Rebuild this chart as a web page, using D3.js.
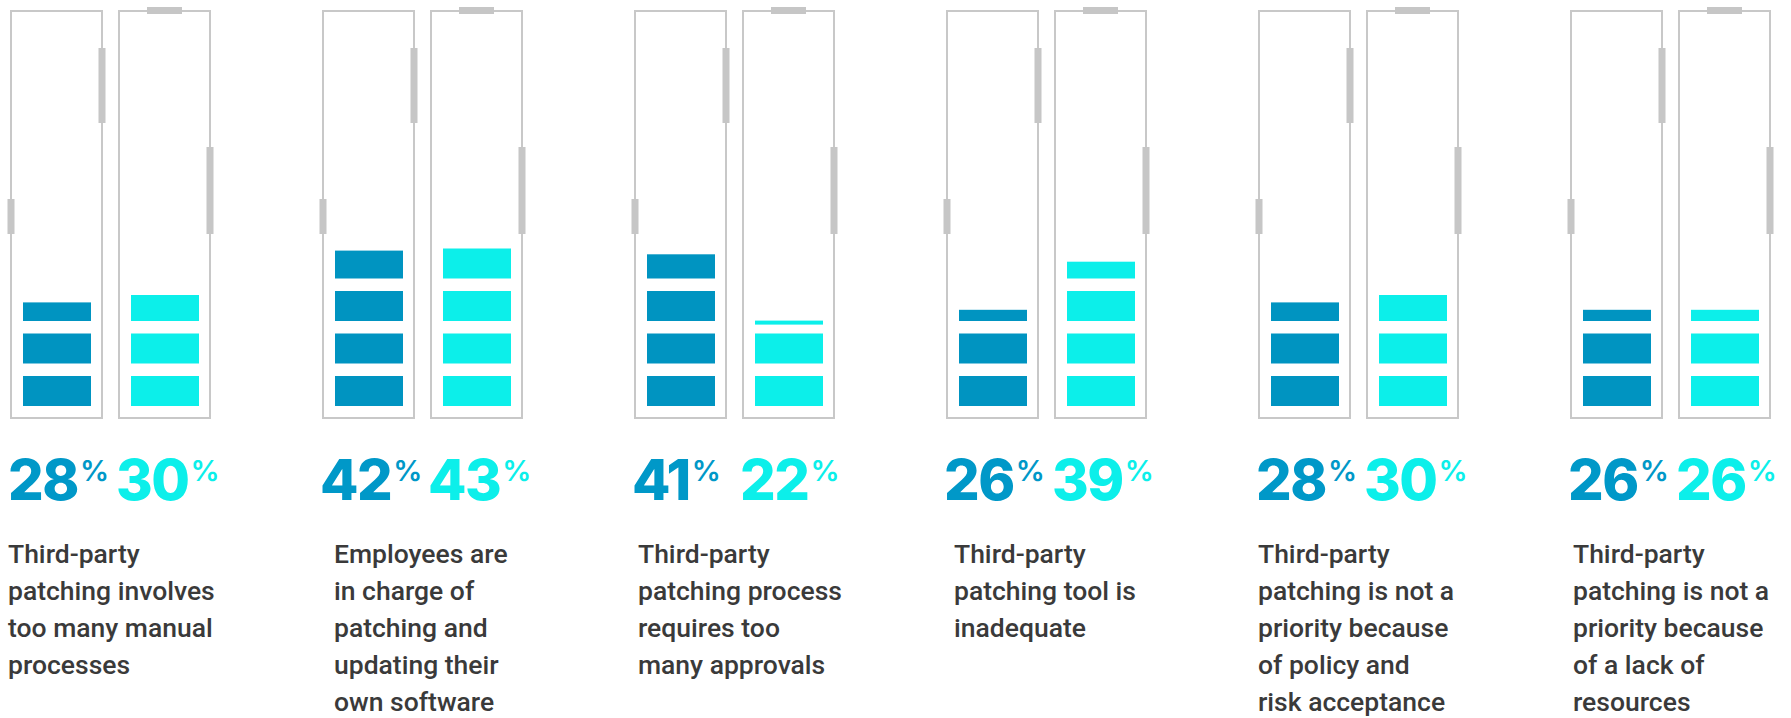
<!DOCTYPE html>
<html>
<head>
<meta charset="utf-8">
<script src="https://cdn.jsdelivr.net/npm/d3@7"></script>
<style>
  html, body { margin: 0; padding: 0; background: #fff; }
  #chart { width: 1791px; height: 718px; }
  .num { font-family: Inter, "Open Sans", sans-serif; font-weight: 800; }
  .desc { font-family: Roboto, sans-serif; font-weight: 500; fill: #3a3a3a; }
</style>
</head>
<body>
<div id="chart"></div>
<script>
  const reasons = [
    ["Third-party", "patching involves", "too many manual", "processes"],
    ["Employees are", "in charge of", "patching and", "updating their", "own software"],
    ["Third-party", "patching process", "requires too", "many approvals"],
    ["Third-party", "patching tool is", "inadequate"],
    ["Third-party", "patching is not a", "priority because", "of policy and", "risk acceptance"],
    ["Third-party", "patching is not a", "priority because", "of a lack of", "resources"]
  ];
  const seriesA = [28, 42, 41, 26, 28, 26];
  const seriesB = [30, 43, 22, 39, 30, 26];

  // small per-group nudges of the caption text, as in the original layout
  const captionShift = [-3, 11, 3, 7, -1, 2];

  const colors = ["#0094c1", "#0cefea"];
  const numColors = ["#0098c8", "#0cefea"];
  const gray = "#c8c8c8";

  const width = 1791, height = 718;
  const pitch = 312, firstX = 11, pairGap = 108;
  const boxW = 91, boxTop = 11, boxBottom = 418;
  const slotH = 30, slotStep = 42.5, slotCount = 4, baseY = 406;
  const barInset = 12, barW = 68;

  const svg = d3.select("#chart").append("svg")
    .attr("width", width)
    .attr("height", height);

  const x = d3.scaleLinear().domain([0, 5]).range([firstX, firstX + 5 * pitch]);
  const level = d3.scaleLinear().domain([0, 100]).range([baseY, baseY - 370]);

  const data = reasons.map((r, i) => ({ lines: r, vals: [seriesA[i], seriesB[i]], i }));

  const groups = svg.selectAll("g.group")
    .data(data)
    .join("g")
    .attr("class", "group")
    .attr("transform", d => `translate(${x(d.i)},0)`);

  function segments(v) {
    const top = level(v);
    const out = [];
    for (let s = 0; s < slotCount; s++) {
      const bottom = baseY - s * slotStep;
      const sTop = bottom - slotH;
      const prevTop = bottom + slotStep - slotH;
      if (top <= sTop) out.push([sTop, bottom]);
      else if (top < bottom) out.push([top, bottom]);
      else if (s > 0 && top < prevTop) out.push([top - 4, top]);
    }
    return out;
  }

  [0, 1].forEach(k => {
    const col = groups.append("g")
      .attr("transform", `translate(${k * pairGap},0)`);

    col.append("rect")
      .attr("x", 0)
      .attr("y", boxTop)
      .attr("width", boxW)
      .attr("height", boxBottom - boxTop)
      .attr("fill", "none")
      .attr("stroke", gray)
      .attr("stroke-width", 2);

    // decorative tabs on the box outline
    const tabs = k === 0
      ? [[boxW - 3.5, 48, 7, 75], [-3.5, 199, 7, 35]]
      : [[28, 7, 35, 7], [boxW - 3.5, 147, 7, 87]];
    col.selectAll("rect.tab")
      .data(tabs)
      .join("rect")
      .attr("class", "tab")
      .attr("x", t => t[0])
      .attr("y", t => t[1])
      .attr("width", t => t[2])
      .attr("height", t => t[3])
      .attr("fill", "#c6c6c6");

    col.selectAll("rect.bar")
      .data(d => segments(d.vals[k]))
      .join("rect")
      .attr("class", "bar")
      .attr("x", barInset)
      .attr("y", s => s[0])
      .attr("width", barW)
      .attr("height", s => s[1] - s[0])
      .attr("fill", colors[k]);

    const t = col.append("text")
      .attr("class", "num")
      .attr("x", -3)
      .attr("y", 500)
      .attr("fill", numColors[k]);
    t.append("tspan")
      .attr("font-size", 56)
      .attr("letter-spacing", -1.5)
      .text(d => d.vals[k]);
    t.append("tspan")
      .attr("font-size", 29)
      .attr("font-weight", 600)
      .attr("dx", 2)
      .attr("dy", -19)
      .text("%");
  });

  groups.append("text")
    .attr("class", "desc")
    .attr("font-size", 26.5)
    .attr("transform", d => `translate(${captionShift[d.i]},0)`)
    .selectAll("tspan")
    .data(d => d.lines)
    .join("tspan")
    .attr("x", 0)
    .attr("y", (l, j) => 563 + j * 37)
    .text(l => l);
</script>
</body>
</html>
